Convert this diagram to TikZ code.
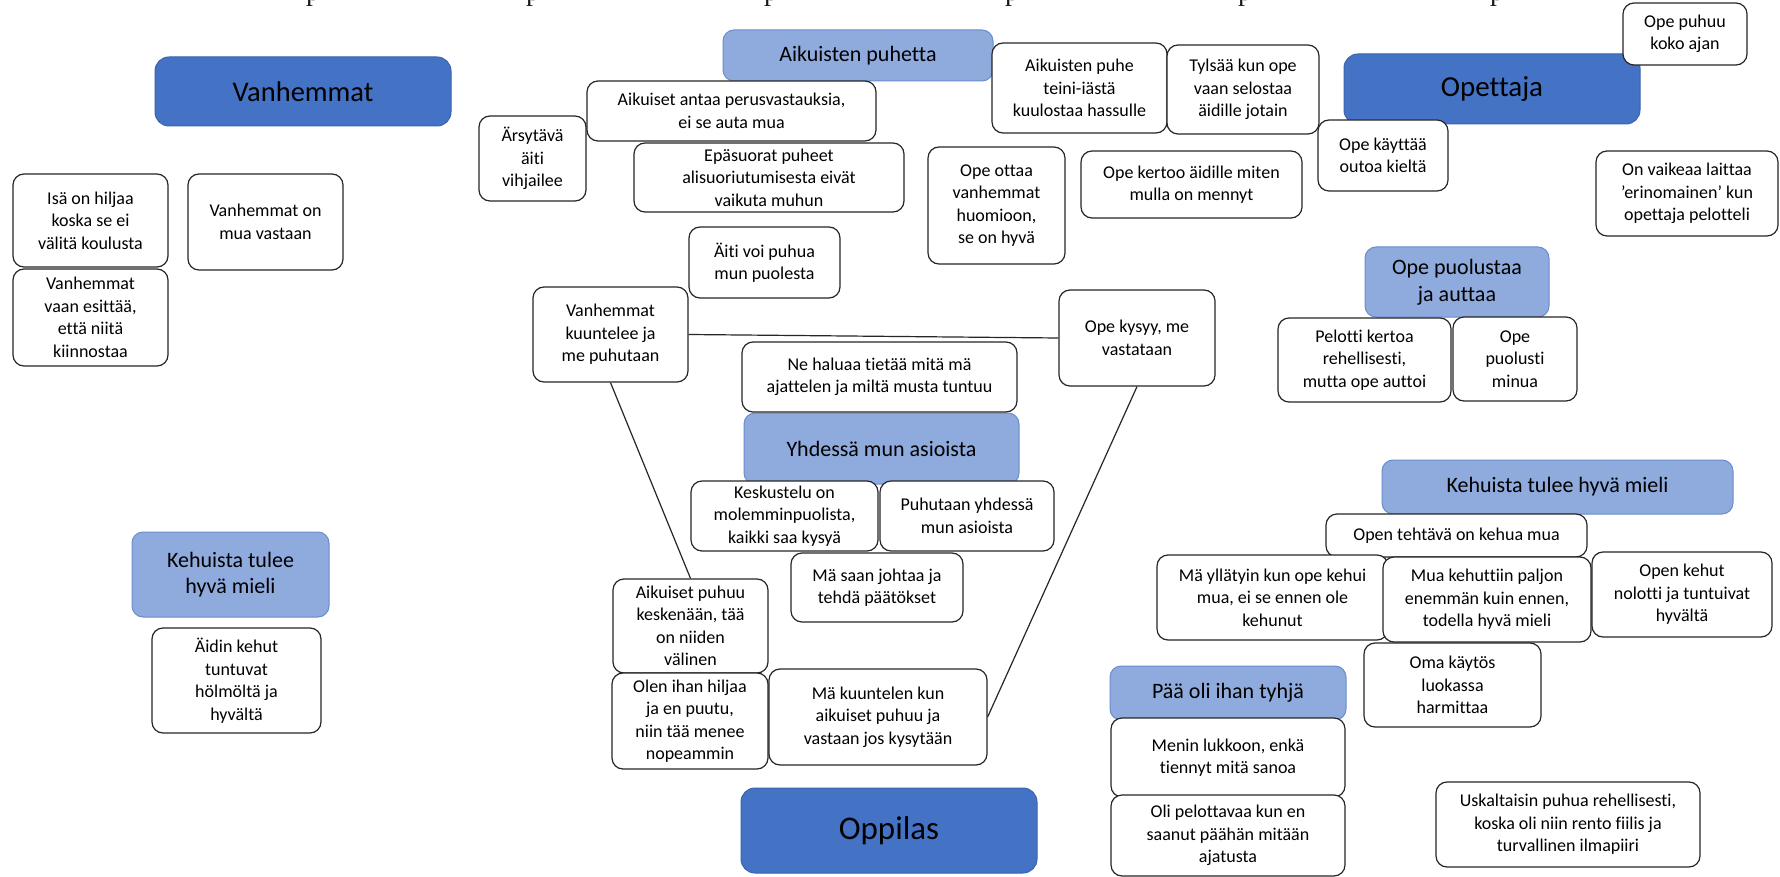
\documentclass[tikz,border=0pt]{standalone}
\usepackage{fontspec}
\setmainfont{Carlito}[Ligatures={NoCommon}]
\newfontfamily\serifp{Liberation Serif}
\definecolor{darkblue}{HTML}{4472C4}
\definecolor{darkblueline}{HTML}{3B64AD}
\definecolor{lightblue}{HTML}{8FAADC}
\definecolor{lightblueline}{HTML}{6A8DCC}
\newcommand\mkbox[7]{%
  \pgfmathsetmacro\mkW{#5-#3}\pgfmathsetmacro\mkH{#6-#4}%
  \pgfmathsetmacro\mkX{(#3+#5)/2}\pgfmathsetmacro\mkY{(#4+#6)/2}%
  \node[#1, minimum width=\mkW pt, minimum height=\mkH pt] (#2) at (\mkX,\mkY) {#7};}
\tikzset{
  wbox/.style={draw=black!85, line width=1.2pt, fill=white, rounded corners=11pt,
    align=center, inner sep=1pt, text=black, font=\fontsize{18}{22.5}\selectfont},
  lbox/.style={draw=lightblueline, line width=1pt, fill=lightblue, rounded corners=11pt,
    align=center, inner sep=1pt, text=black, font=\fontsize{22}{26.7}\selectfont},
  dbox/.style={draw=darkblueline, line width=1pt, fill=darkblue, rounded corners=14pt,
    align=center, inner sep=1pt, text=black},
  conn/.style={draw=black!85, line width=1.2pt},
  pmark/.style={font=\serifp\fontsize{28}{28}\selectfont, anchor=base west, inner sep=0pt, text=black!90}
}
\begin{document}
\begin{tikzpicture}[x=1pt,y=-1pt]
\useasboundingbox (0,0) rectangle (1780,877);
\fill[white] (0,0) rectangle (1780,877);
% cut-off glyphs at top edge
\node[pmark] (p1) at (306,0.5) {p};
\node[pmark] (p2) at (526,0.5) {p};
\node[pmark] (p3) at (764,0.5) {p};
\node[pmark] (p4) at (1005,0.5) {p};
\node[pmark] (p5) at (1238,0.5) {p};
\node[pmark] (p6) at (1490,0.5) {p};
% main headers
\mkbox{dbox, font=\fontsize{28.5}{34}\selectfont}{vanh}{155}{57}{451}{126}{Vanhemmat}
\mkbox{dbox, font=\fontsize{29}{34}\selectfont}{opettaja}{1344}{54}{1640}{124}{Opettaja}
\mkbox{dbox, font=\fontsize{33}{38}\selectfont}{oppilas}{741}{788}{1037}{873}{Oppilas}
% sub headers
\mkbox{lbox}{aikpuhetta}{723}{30}{993}{81}{Aikuisten puhetta}
\mkbox{lbox}{opepuol}{1365}{247}{1549}{317}{Ope puolustaa\\ja auttaa}
\mkbox{lbox}{yhdessa}{744}{413}{1019}{484}{Yhdessä mun asioista}
\mkbox{lbox}{kehL}{132}{532}{329}{617}{Kehuista tulee\\hyvä mieli}
\mkbox{lbox}{kehR}{1382}{460}{1733}{514}{Kehuista tulee hyvä mieli}
\mkbox{lbox}{paa}{1110}{666}{1346}{720}{Pää oli ihan tyhjä}
% left column
\mkbox{wbox}{isa}{13}{174}{168}{267}{Isä on hiljaa\\koska se ei\\välitä koulusta}
\mkbox{wbox}{vanhvast}{188}{174}{343}{270}{Vanhemmat on\\mua vastaan}
\mkbox{wbox}{vesittaa}{13}{269}{168}{366}{Vanhemmat\\vaan esittää,\\että niitä\\kiinnostaa}
\mkbox{wbox}{aidinkehut}{152}{628}{321}{733}{Äidin kehut\\tuntuvat\\hölmöltä ja\\hyvältä}
% middle
\mkbox{wbox}{arsytava}{479}{116}{586}{201}{Ärsytävä\\äiti\\vihjailee}
\mkbox{wbox}{aikanta}{587}{81}{876}{141}{Aikuiset antaa perusvastauksia,\\ei se auta mua}
\mkbox{wbox}{epasuorat}{634}{143}{904}{212}{Epäsuorat puheet\\alisuoriutumisesta eivät\\vaikuta muhun}
\mkbox{wbox}{aitivoi}{689}{227}{840}{298}{Äiti voi puhua\\mun puolesta}
\mkbox{wbox}{vkuunt}{533}{287}{688}{382}{Vanhemmat\\kuuntelee ja\\me puhutaan}
\mkbox{wbox}{opeottaa}{928}{147}{1065}{264}{Ope ottaa\\vanhemmat\\huomioon,\\se on hyvä}
\mkbox{wbox}{opekertoo}{1081}{151}{1302}{218}{Ope kertoo äidille miten\\mulla on mennyt}
\mkbox{wbox}{aikpuhe}{992}{43}{1167}{133}{Aikuisten puhe\\teini-iästä\\kuulostaa hassulle}
\mkbox{wbox}{tylsaa}{1167}{45}{1319}{134}{Tylsää kun ope\\vaan selostaa\\äidille jotain}
\mkbox{wbox}{opekysyy}{1059}{290}{1215}{386}{Ope kysyy, me\\vastataan}
\mkbox{wbox}{nehaluaa}{742}{342}{1017}{412}{Ne haluaa tietää mitä mä\\ajattelen ja miltä musta tuntuu}
\mkbox{wbox}{keskustelu}{691}{481}{878}{551}{Keskustelu on\\molemminpuolista,\\kaikki saa kysyä}
\mkbox{wbox}{puhutaan}{880}{481}{1054}{551}{Puhutaan yhdessä\\mun asioista}
\mkbox{wbox}{saan}{791}{553}{963}{622}{Mä saan johtaa ja\\tehdä päätökset}
\mkbox{wbox}{aikpuhuu}{613}{579}{768}{673}{Aikuiset puhuu\\keskenään, tää\\on niiden\\välinen}
\mkbox{wbox}{olen}{612}{673}{768}{769}{Olen ihan hiljaa\\ja en puutu,\\niin tää menee\\nopeammin}
\mkbox{wbox}{kuuntelen}{769}{669}{987}{765}{Mä kuuntelen kun\\aikuiset puhuu ja\\vastaan jos kysytään}
% right
\mkbox{wbox}{opekaytt}{1318}{120}{1448}{191}{Ope käyttää\\outoa kieltä}
\mkbox{wbox}{opepuhuu}{1623}{3}{1747}{65}{Ope puhuu\\koko ajan}
\mkbox{wbox}{vaikeaa}{1596}{151}{1778}{236}{On vaikeaa laittaa\\’erinomainen’ kun\\opettaja pelotteli}
\mkbox{wbox}{pelotti}{1278}{318}{1451}{402}{Pelotti kertoa\\rehellisesti,\\mutta ope auttoi}
\mkbox{wbox}{puolusti}{1453}{317}{1577}{401}{Ope\\puolusti\\minua}
\mkbox{wbox}{opentehtava}{1326}{514}{1587}{557}{Open tehtävä on kehua mua}
\mkbox{wbox}{yllatyin}{1157}{555}{1388}{640}{Mä yllätyin kun ope kehui\\mua, ei se ennen ole\\kehunut}
\mkbox{wbox}{kehuttiin}{1383}{557}{1591}{642}{Mua kehuttiin paljon\\enemmän kuin ennen,\\todella hyvä mieli}
\mkbox{wbox}{openkehut}{1592}{552}{1772}{637}{Open kehut\\nolotti ja tuntuivat\\hyvältä}
\mkbox{wbox}{omakaytos}{1364}{643}{1541}{727}{Oma käytös\\luokassa\\harmittaa}
\mkbox{wbox}{menin}{1111}{718}{1345}{797}{Menin lukkoon, enkä\\tiennyt mitä sanoa}
\mkbox{wbox}{olipelott}{1111}{795}{1345}{876}{Oli pelottavaa kun en\\saanut päähän mitään\\ajatusta}
\mkbox{wbox}{uskaltaisin}{1436}{782}{1700}{867}{Uskaltaisin puhua rehellisesti,\\koska oli niin rento fiilis ja\\turvallinen ilmapiiri}
% connectors
\draw[conn] (vkuunt.east) -- (opekysyy.west);
\draw[conn] (vkuunt.south) -- (aikpuhuu.north);
\draw[conn] (opekysyy.south) -- (kuuntelen.east);
\end{tikzpicture}
\end{document}
